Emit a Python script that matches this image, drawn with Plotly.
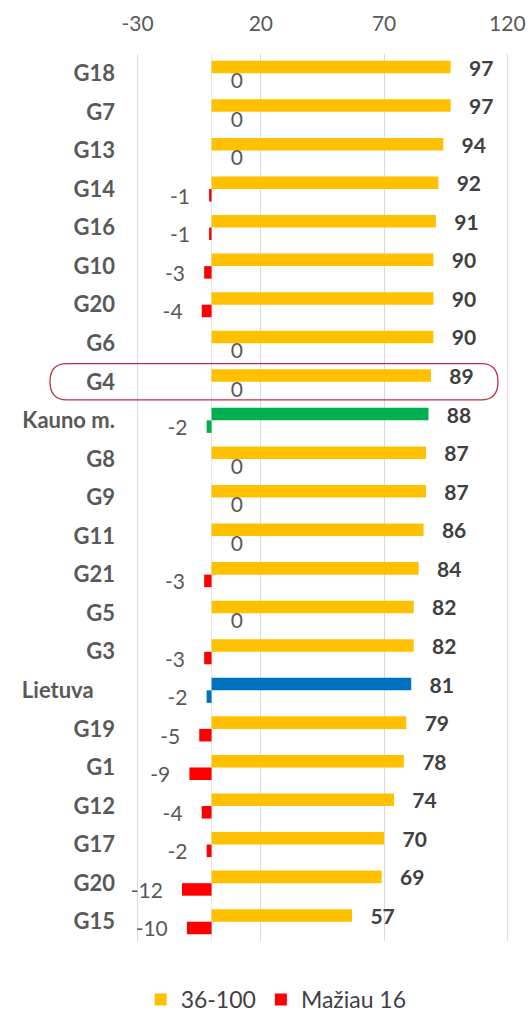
import plotly.graph_objects as go

categories = ["G18", "G7", "G13", "G14", "G16", "G10", "G20", "G6", "G4", "Kauno m.",
              "G8", "G9", "G11", "G21", "G5", "G3", "Lietuva", "G19", "G1", "G12",
              "G17", "G20", "G15"]
share_36_100 = [97, 97, 94, 92, 91, 90, 90, 90, 89, 88, 87, 87, 86, 84, 82, 82, 81,
                79, 78, 74, 70, 69, 57]
share_below_16 = [0, 0, 0, -1, -1, -3, -4, 0, 0, -2, 0, 0, 0, -3, 0, -3, -2, -5, -9,
                  -4, -2, -12, -10]
x_ticks = [-30, 20, 70, 120]
x_tick_labels = ["-30", "20", "70", "120"]

GOLD, RED, GREEN, BLUE = "#FFC000", "#FF0000", "#00B050", "#0070C0"
special = {"Kauno m.": GREEN, "Lietuva": BLUE}

pos = list(range(len(categories)))
pos_colors = [special.get(c, GOLD) for c in categories]
neg_colors = [special.get(c, RED) for c in categories]

NB = "\u00a0"
pos_text = [NB * 3 + str(v) for v in share_36_100]
neg_text = [(NB * 3 + str(v)) if v == 0 else (str(v) + NB * 3) for v in share_below_16]
tick_text = [c + NB * 4 if c == "Lietuva" else c for c in categories]

FONT = "Lato, 'Open Sans', sans-serif"
GRID = "#D9D9D9"

fig = go.Figure()
fig.add_trace(go.Bar(
    y=pos, x=share_36_100, orientation="h", name="36-100",
    marker=dict(color=pos_colors, line=dict(width=0)),
    text=pos_text, textposition="outside", constraintext="none",
    textfont=dict(family=FONT, size=21, color="#404040", weight="bold"),
    cliponaxis=False,
))
fig.add_trace(go.Bar(
    y=pos, x=share_below_16, orientation="h", name="Mažiau 16",
    marker=dict(color=neg_colors, line=dict(width=0)),
    text=neg_text, textposition="outside", constraintext="none",
    textfont=dict(family=FONT, size=21, color="#595959"),
    cliponaxis=False,
))

# edge gridlines (at the first and last tick values)
for xv in (x_ticks[0], x_ticks[-1]):
    fig.add_shape(type="line", xref="x", yref="paper", x0=xv, x1=xv, y0=0, y1=1,
                  line=dict(color=GRID, width=1), layer="below")

# rounded highlight around the G4 row
gi = categories.index("G4")
x0, x1 = -0.2345, 0.973
y0, y1 = gi - 0.47, gi + 0.47
rx = 0.045
path = (f"M {x0+rx},{y0} L {x1-rx},{y0} Q {x1},{y0} {x1},{gi} "
        f"Q {x1},{y1} {x1-rx},{y1} L {x0+rx},{y1} Q {x0},{y1} {x0},{gi} "
        f"Q {x0},{y0} {x0+rx},{y0} Z")
fig.add_shape(type="path", path=path, xref="paper", yref="y",
              line=dict(color="#C0304A", width=1.3), fillcolor="rgba(0,0,0,0)")

fig.update_layout(
    width=531, height=1013,
    margin=dict(l=137, r=23, t=54, b=72, autoexpand=False),
    paper_bgcolor="white", plot_bgcolor="white",
    barmode="group", bargap=0.35, bargroupgap=0,
    font=dict(family=FONT, color="#595959"),
    showlegend=True,
    legend=dict(orientation="h", x=0.375, xanchor="center", y=-0.066, yanchor="middle",
                font=dict(family=FONT, size=23, color="#404048"),
                itemwidth=30, traceorder="normal"),
    xaxis=dict(range=[-30.25, 120.25], tickvals=x_ticks, ticktext=x_tick_labels,
               side="top", showgrid=True, gridcolor=GRID, gridwidth=1,
               zeroline=True, zerolinecolor="#E6E6E6", zerolinewidth=1,
               showline=False, ticks="", ticklabelstandoff=18, automargin=False,
               tickfont=dict(family=FONT, size=21, color="#595959")),
    yaxis=dict(tickvals=pos, ticktext=tick_text, autorange="reversed",
               showgrid=False, zeroline=False, showline=False, ticks="",
               ticklabelstandoff=21, automargin=False,
               tickfont=dict(family=FONT, size=22, color="#595959", weight="bold")),
)

fig.write_html(
    "out.html",
    config={"displayModeBar": False},
    post_script=("document.body.style.margin='0';"
                 "document.body.style.overflow='hidden';"
                 "document.documentElement.style.overflow='hidden';"),
)
